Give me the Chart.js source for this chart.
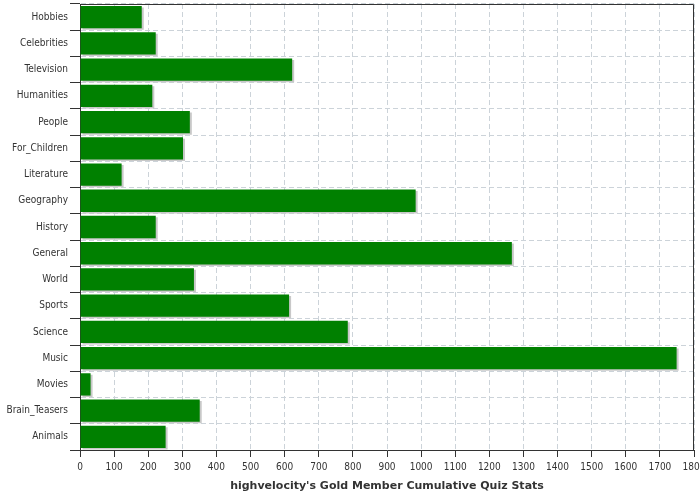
<!DOCTYPE html>
<html lang="en">
<head>
    <meta charset="UTF-8">
    <title>highvelocity's Gold Member Cumulative Quiz Stats</title>
    <script src="https://cdn.jsdelivr.net/npm/chart.js"></script>
    <style>
        html, body { margin: 0; padding: 0; background: #fff; }
        #wrap { width: 700px; height: 500px; }
    </style>
</head>
<body>
    <div id="wrap"><canvas id="quizChart"></canvas></div>

    <script>
        // Data
        const categories = ["Hobbies", "Celebrities", "Television", "Humanities", "People", "For_Children",
            "Literature", "Geography", "History", "General", "World", "Sports", "Science", "Music",
            "Movies", "Brain_Teasers", "Animals"];
        const quizCounts = [181, 222, 622, 212, 322, 302, 122, 984, 222, 1266, 334, 613, 785, 1749, 31, 351, 251];
        const xMin = 0;
        const xMax = 1800;
        const xStep = 100;
        const axisTitle = "highvelocity's Gold Member Cumulative Quiz Stats";

        const gridColor = "#ccd3d9";
        const axisColor = "#333333";
        const tickFont = { family: "'DejaVu Sans Condensed', 'DejaVu Sans', sans-serif", size: 10 };

        Chart.defaults.font.family = "'DejaVu Sans', sans-serif";
        Chart.defaults.font.size = 10;
        Chart.defaults.color = "#333333";

        // grey drop shadow behind the bars
        const barShadow = {
            id: "barShadow",
            beforeDatasetsDraw(chart) {
                const ctx = chart.ctx;
                ctx.save();
                ctx.shadowColor = "#c8c8c8";
                ctx.shadowOffsetX = 2;
                ctx.shadowOffsetY = 1.5;
                ctx.shadowBlur = 0;
            },
            afterDatasetsDraw(chart) {
                chart.ctx.restore();
            }
        };

        // solid frame on the top and right of the plot
        const plotFrame = {
            id: "plotFrame",
            afterDraw(chart) {
                const { ctx, chartArea } = chart;
                const l = Math.round(chartArea.left) + 0.5;
                const r = Math.round(chartArea.right) - 0.5;
                const t = Math.round(chartArea.top) + 0.5;
                const b = Math.round(chartArea.bottom) + 0.5;
                ctx.save();
                ctx.strokeStyle = axisColor;
                ctx.lineWidth = 1;
                ctx.beginPath();
                ctx.moveTo(l, t);
                ctx.lineTo(r, t);
                ctx.lineTo(r, b);
                ctx.stroke();
                ctx.restore();
            }
        };

        const ctx = document.getElementById("quizChart").getContext("2d");
        new Chart(ctx, {
            type: "bar",
            data: {
                labels: categories,
                datasets: [{
                    data: quizCounts,
                    backgroundColor: "#008000",
                    borderWidth: 0,
                    barPercentage: 0.85,
                    categoryPercentage: 1.0
                }]
            },
            options: {
                indexAxis: "y",
                responsive: true,
                maintainAspectRatio: false,
                animation: false,
                layout: { padding: { top: 4, right: 6, left: 0, bottom: 0 } },
                plugins: {
                    legend: { display: false },
                    tooltip: { enabled: false }
                },
                scales: {
                    x: {
                        min: xMin,
                        max: xMax,
                        ticks: {
                            stepSize: xStep,
                            padding: 4,
                            maxRotation: 0,
                            autoSkip: false,
                            color: "#333333",
                            font: tickFont,
                            callback: (value) => String(value)
                        },
                        grid: {
                            color: gridColor,
                            tickColor: axisColor,
                            tickLength: 7
                        },
                        border: { color: axisColor, dash: [5, 3] },
                        title: {
                            display: true,
                            text: axisTitle,
                            color: "#333333",
                            font: { size: 11, weight: "bold" },
                            padding: { top: 6, bottom: 7 }
                        },
                        afterFit(scale) {
                            scale.height = 50;
                            scale.paddingLeft = 0;
                            scale.paddingRight = 0;
                        }
                    },
                    y: {
                        ticks: {
                            padding: 2,
                            autoSkip: false,
                            color: "#333333",
                            font: tickFont
                        },
                        grid: {
                            offset: true,
                            color: gridColor,
                            tickColor: axisColor,
                            tickLength: 10
                        },
                        border: { color: axisColor, dash: [5, 3] },
                        afterFit(scale) {
                            scale.width = 80;
                            scale.paddingTop = 0;
                            scale.paddingBottom = 0;
                        }
                    }
                }
            },
            plugins: [barShadow, plotFrame]
        });
    </script>
</body>
</html>
